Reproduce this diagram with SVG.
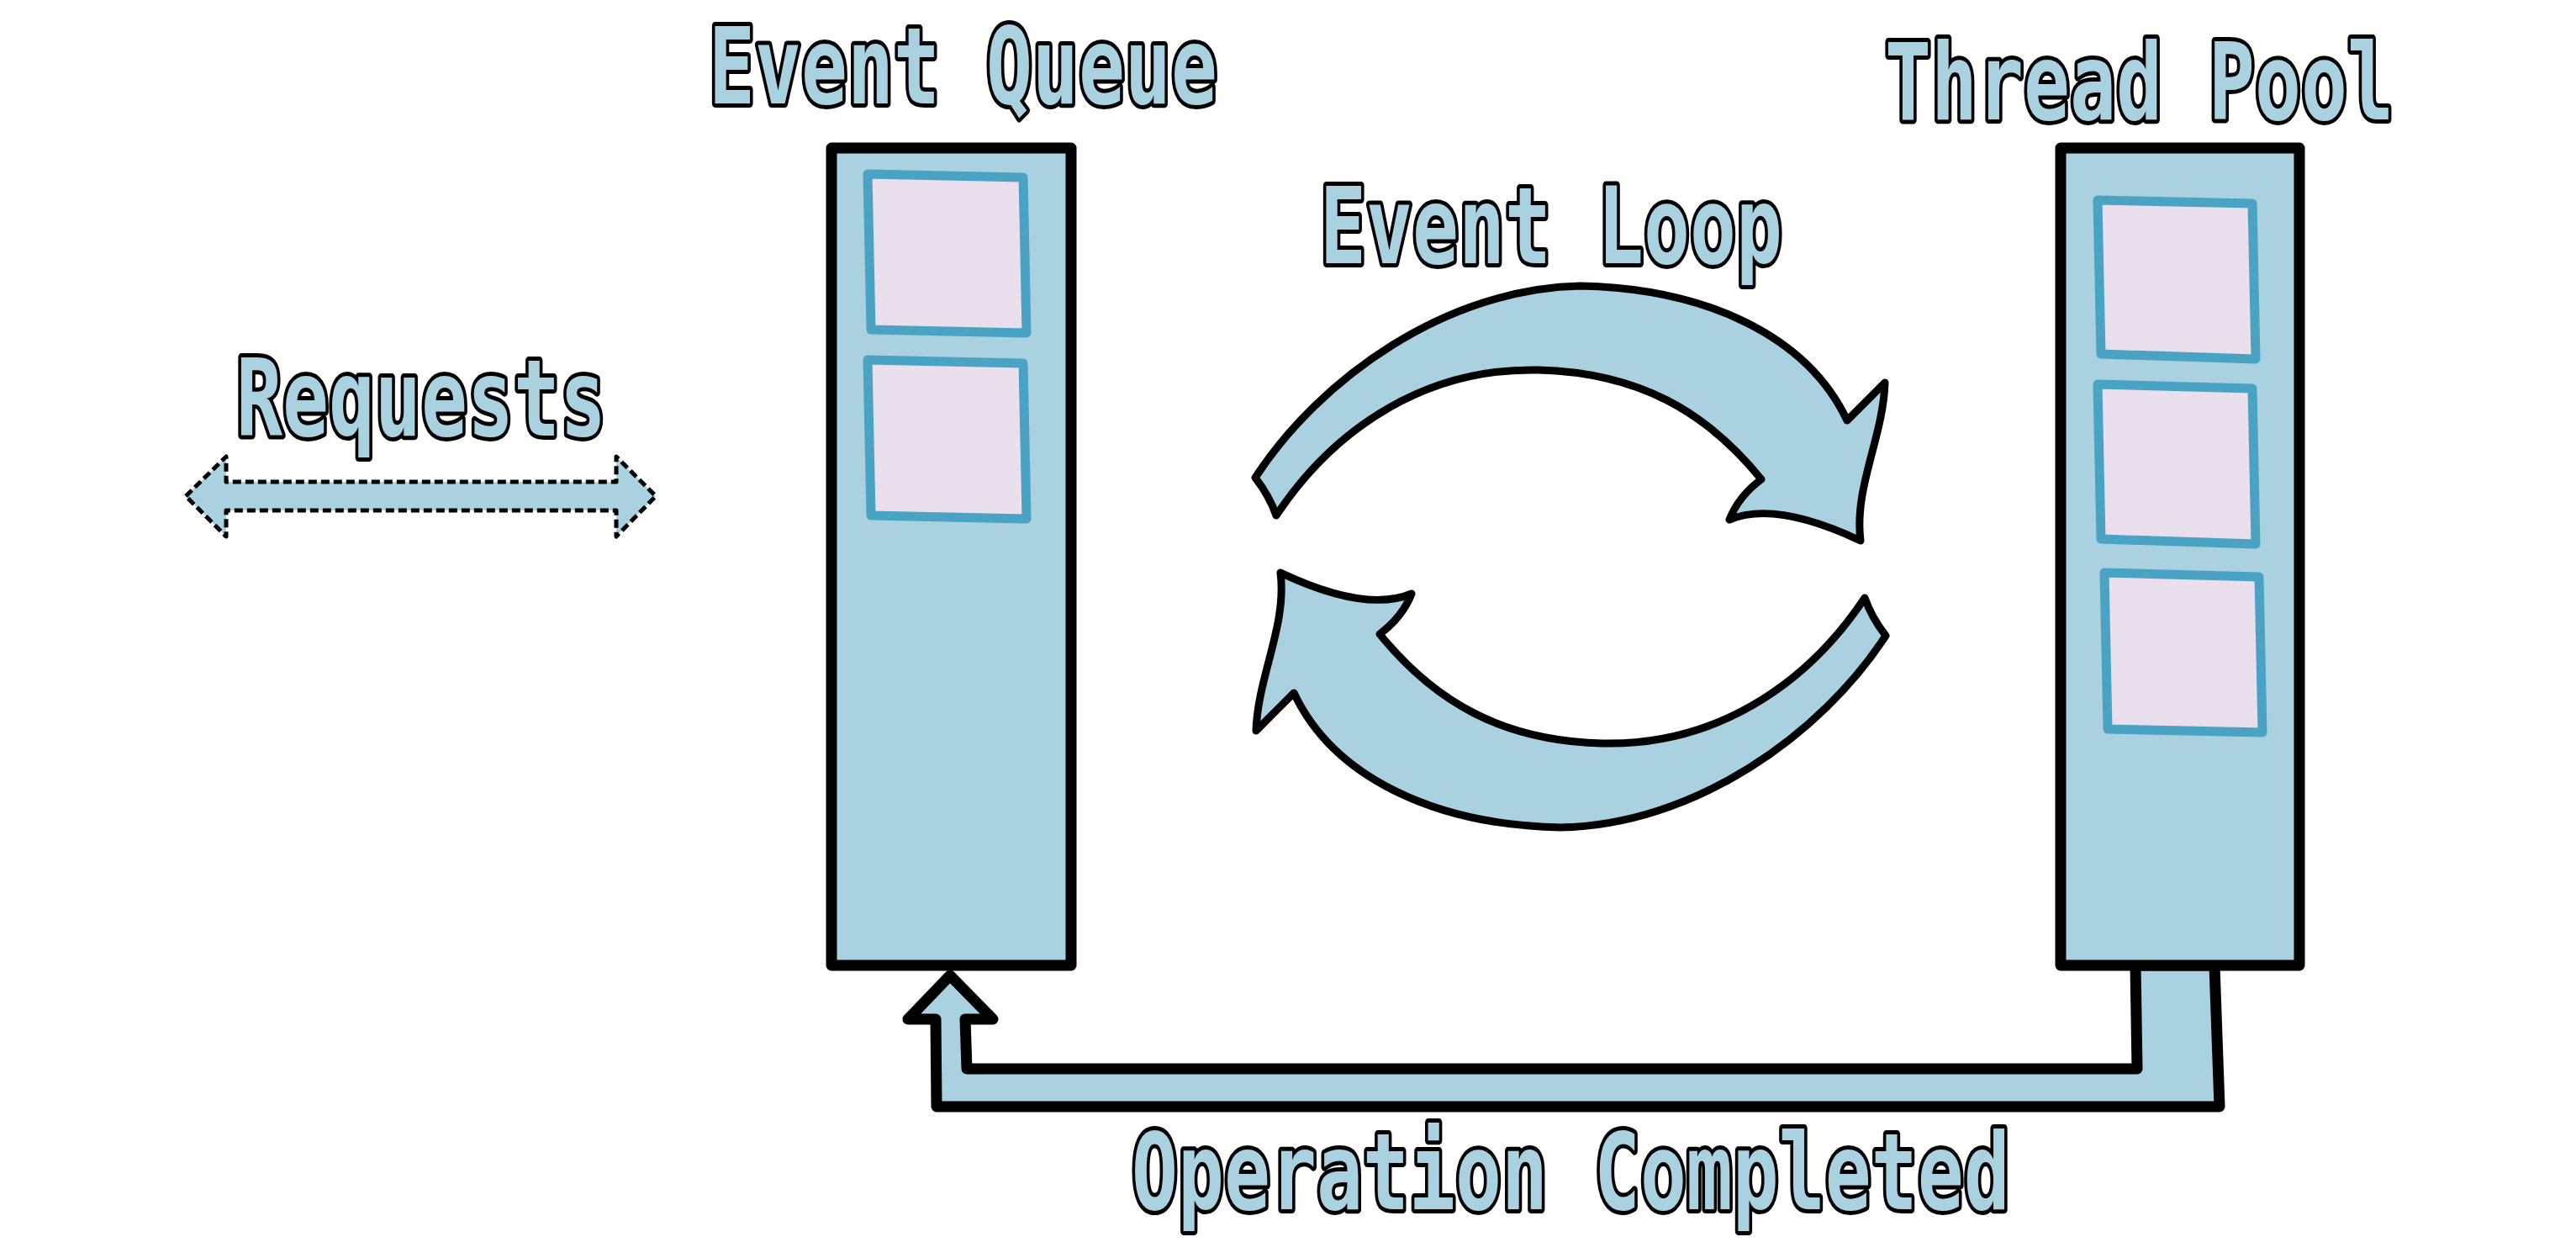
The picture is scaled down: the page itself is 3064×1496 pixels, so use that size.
<svg xmlns="http://www.w3.org/2000/svg" width="3064" height="1496" viewBox="0 0 3064 1496">
<style>
.lbl{font-family:"DejaVu Sans Mono","Liberation Mono",monospace;font-weight:bold;font-size:126px;fill:#a9d1e0;stroke:#000;stroke-width:10;stroke-linejoin:round;paint-order:stroke}
.col{fill:#a9d1e0;stroke:#000;stroke-width:13;stroke-linejoin:round}
.item{fill:#e9dfed;stroke:#4ba3c3;stroke-width:11;stroke-linejoin:round}
.loop{fill:#a9d1e0;stroke:#000;stroke-width:9;stroke-linejoin:round}
.conn{fill:#a9d1e0;stroke:#000;stroke-width:13;stroke-linejoin:round}
.req{fill:#a9d1e0;stroke:#000;stroke-width:5;stroke-dasharray:10 5;stroke-linejoin:round}
</style>
<rect width="3064" height="1496" fill="#fff"/>
<g id="connectors">
<path class="conn" d="M2540,1148 L2542,1271 L1150,1271 L1148,1212 L1181,1212 L1130,1160 L1080,1212 L1113,1212 L1114,1316 L2640,1316 L2634,1148 Z"/>
<path class="req" d="M221,590 L269,543 L269,573 L733,573 L733,543 L780,590 L733,638 L733,607 L269,607 L269,638 Z"/>
</g>
<g id="event-queue">
<rect class="col" x="989" y="176" width="285" height="972"/>
<path class="item" d="M1032,207 L1217,211 L1221,396 L1036,392 Z"/>
<path class="item" d="M1032,428 L1217,432 L1221,617 L1036,613 Z"/>
<text class="lbl" transform="translate(843,123) scale(0.725,1)">Event Queue</text>
</g>
<g id="thread-pool">
<rect class="col" x="2451" y="176" width="284" height="972"/>
<path class="item" d="M2495,238 L2679,242 L2683,427 L2499,421 Z"/>
<path class="item" d="M2495,457 L2679,462 L2683,647 L2499,641 Z"/>
<path class="item" d="M2503,681 L2687,686 L2691,871 L2507,867 Z"/>
<text class="lbl" transform="translate(2242,142) scale(0.725,1)">Thread Pool</text>
</g>
<g id="event-loop">
<path class="loop" d="M1493,568 C1570,450 1720,343 1880,340 C2030,343 2150,400 2197,500 L2242,455 C2240,520 2205,580 2213,643 C2160,618 2100,600 2057,618 Q2068,590 2095,570 C2030,490 1950,443 1830,440 C1700,437 1590,505 1518,613 Q1510,590 1493,568 Z"/>
<path class="loop" transform="rotate(180 1868 662)" d="M1493,568 C1570,450 1720,343 1880,340 C2030,343 2150,400 2197,500 L2242,455 C2240,520 2205,580 2213,643 C2160,618 2100,600 2057,618 Q2068,590 2095,570 C2030,490 1950,443 1830,440 C1700,437 1590,505 1518,613 Q1510,590 1493,568 Z"/>
<text class="lbl" transform="translate(1570,313) scale(0.725,1)">Event Loop</text>
</g>
<g id="requests">
<text class="lbl" transform="translate(281,518) scale(0.725,1)">Requests</text>
</g>
<g id="operation-completed">
<text class="lbl" transform="translate(1346,1438) scale(0.725,1)">Operation Completed</text>
</g>
</svg>
